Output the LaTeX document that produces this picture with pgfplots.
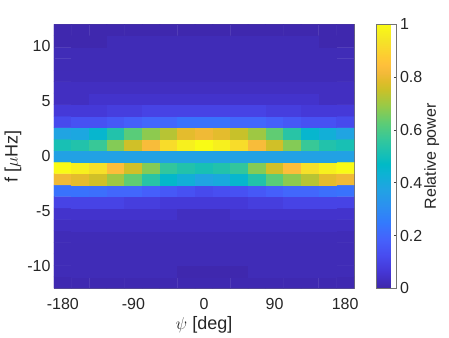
\documentclass[border=0pt]{standalone}
\usepackage{fontspec}
\setmainfont{Liberation Sans}
\usepackage{pgfplots}
\pgfplotsset{compat=1.18}
\definecolor{txt}{RGB}{38,38,38}
\pgfplotsset{
  colormap={parula}{
    rgb(0pt)=(0.2422,0.1504,0.6603) rgb(16pt)=(0.2704,0.2138,0.8346)
    rgb(32pt)=(0.2813,0.2985,0.9397) rgb(48pt)=(0.2710,0.3860,0.9898)
    rgb(64pt)=(0.2006,0.4803,0.9906) rgb(80pt)=(0.1716,0.5655,0.9393)
    rgb(96pt)=(0.1288,0.6408,0.8910) rgb(112pt)=(0.0433,0.7039,0.8242)
    rgb(120pt)=(0.0018,0.7275,0.7752) rgb(128pt)=(0.0770,0.7468,0.7224)
    rgb(144pt)=(0.2061,0.7808,0.6065) rgb(160pt)=(0.3671,0.8021,0.4563)
    rgb(176pt)=(0.5886,0.7913,0.2833) rgb(192pt)=(0.7945,0.7554,0.1570)
    rgb(200pt)=(0.8804,0.7372,0.1650) rgb(208pt)=(0.9523,0.7284,0.2237)
    rgb(216pt)=(0.9971,0.7513,0.2309) rgb(224pt)=(0.9938,0.7974,0.1974)
    rgb(240pt)=(0.9601,0.8963,0.1507) rgb(255pt)=(0.9769,0.9839,0.0805)
  }
}
\begin{document}
\begin{tikzpicture}
\begin{axis}[
  name=main,
  scale only axis, width=300pt, height=264pt,
  xmin=-191.25, xmax=191.25, ymin=-12, ymax=12,
  xtick={-180,-90,0,90,180}, xticklabels={-180,-90,0,90,180},
  ytick={-10,-5,0,5,10}, yticklabels={-10,-5,0,5,10},
  tick align=inside, major tick length=3pt,
  tick style={black!75, line width=0.5pt},
  axis line style={black!55, line width=0.6pt},
  ticklabel style={font=\fontsize{16}{18}\selectfont, text=txt},
  xticklabel style={yshift=-6pt},
  xlabel={$\psi$ [deg]}, ylabel={f [$\mu$Hz]},
  label style={font=\fontsize{18}{20}\selectfont, text=txt},
  xlabel style={at={(axis description cs:0.5,-0.14)}, anchor=center},
  ylabel style={at={(axis description cs:-0.137,0.5)}, anchor=center},
  point meta min=0, point meta max=1,
  colorbar,
  colorbar style={
    at={(parent axis.north east)}, anchor=north west, xshift=13.5pt,
    scale only axis, width=20.5pt, height=264pt,
    ytick={0,0.2,0.4,0.6,0.8,1}, yticklabels={0,0.2,0.4,0.6,0.8,1},
    ytick pos=right, yticklabel pos=right,
    tick align=inside, major tick length=3pt,
    tick style={black!75, line width=0.5pt},
    axis line style={black!55, line width=0.6pt},
    ticklabel style={font=\fontsize{16}{18}\selectfont, text=txt},
    ylabel={Relative power},
    ylabel style={font=\fontsize{16}{18}\selectfont, text=txt, yshift=5pt},
  },
]
\addplot[matrix plot*, mesh/cols=17, point meta=explicit]
  table[row sep=\\, header=false, x index=0, y index=1, meta index=2] {
-180 -11.478 0.012\\ -157.5 -11.478 0.012\\ -135 -11.478 0.012\\ -112.5 -11.478 0.012\\ -90 -11.478 0.012\\ -67.5 -11.478 0.012\\ -45 -11.478 0.012\\ -22.5 -11.478 0.012\\ 0 -11.478 0.012\\ 22.5 -11.478 0.012\\ 45 -11.478 0.012\\ 67.5 -11.478 0.012\\ 90 -11.478 0.012\\ 112.5 -11.478 0.012\\ 135 -11.478 0.012\\ 157.5 -11.478 0.012\\ 180 -11.478 0.012\\
-180 -10.435 0.02\\ -157.5 -10.435 0.02\\ -135 -10.435 0.02\\ -112.5 -10.435 0.02\\ -90 -10.435 0.02\\ -67.5 -10.435 0.02\\ -45 -10.435 0.02\\ -22.5 -10.435 0.008\\ 0 -10.435 0.008\\ 22.5 -10.435 0.008\\ 45 -10.435 0.008\\ 67.5 -10.435 0.02\\ 90 -10.435 0.02\\ 112.5 -10.435 0.02\\ 135 -10.435 0.02\\ 157.5 -10.435 0.02\\ 180 -10.435 0.02\\
-180 -9.391 0.02\\ -157.5 -9.391 0.02\\ -135 -9.391 0.02\\ -112.5 -9.391 0.02\\ -90 -9.391 0.02\\ -67.5 -9.391 0.02\\ -45 -9.391 0.02\\ -22.5 -9.391 0.02\\ 0 -9.391 0.02\\ 22.5 -9.391 0.02\\ 45 -9.391 0.02\\ 67.5 -9.391 0.02\\ 90 -9.391 0.02\\ 112.5 -9.391 0.02\\ 135 -9.391 0.02\\ 157.5 -9.391 0.02\\ 180 -9.391 0.02\\
-180 -8.348 0.02\\ -157.5 -8.348 0.02\\ -135 -8.348 0.02\\ -112.5 -8.348 0.02\\ -90 -8.348 0.02\\ -67.5 -8.348 0.02\\ -45 -8.348 0.02\\ -22.5 -8.348 0.02\\ 0 -8.348 0.02\\ 22.5 -8.348 0.02\\ 45 -8.348 0.02\\ 67.5 -8.348 0.02\\ 90 -8.348 0.02\\ 112.5 -8.348 0.02\\ 135 -8.348 0.02\\ 157.5 -8.348 0.02\\ 180 -8.348 0.02\\
-180 -7.304 0.022\\ -157.5 -7.304 0.022\\ -135 -7.304 0.022\\ -112.5 -7.304 0.022\\ -90 -7.304 0.022\\ -67.5 -7.304 0.022\\ -45 -7.304 0.022\\ -22.5 -7.304 0.022\\ 0 -7.304 0.022\\ 22.5 -7.304 0.022\\ 45 -7.304 0.022\\ 67.5 -7.304 0.022\\ 90 -7.304 0.022\\ 112.5 -7.304 0.022\\ 135 -7.304 0.022\\ 157.5 -7.304 0.022\\ 180 -7.304 0.022\\
-180 -6.261 0.035\\ -157.5 -6.261 0.035\\ -135 -6.261 0.035\\ -112.5 -6.261 0.035\\ -90 -6.261 0.035\\ -67.5 -6.261 0.035\\ -45 -6.261 0.035\\ -22.5 -6.261 0.035\\ 0 -6.261 0.035\\ 22.5 -6.261 0.035\\ 45 -6.261 0.035\\ 67.5 -6.261 0.035\\ 90 -6.261 0.035\\ 112.5 -6.261 0.035\\ 135 -6.261 0.035\\ 157.5 -6.261 0.035\\ 180 -6.261 0.035\\
-180 -5.217 0.05\\ -157.5 -5.217 0.05\\ -135 -5.217 0.05\\ -112.5 -5.217 0.05\\ -90 -5.217 0.05\\ -67.5 -5.217 0.05\\ -45 -5.217 0.05\\ -22.5 -5.217 0.035\\ 0 -5.217 0.035\\ 22.5 -5.217 0.035\\ 45 -5.217 0.05\\ 67.5 -5.217 0.05\\ 90 -5.217 0.05\\ 112.5 -5.217 0.05\\ 135 -5.217 0.05\\ 157.5 -5.217 0.05\\ 180 -5.217 0.05\\
-180 -4.174 0.10\\ -157.5 -4.174 0.10\\ -135 -4.174 0.10\\ -112.5 -4.174 0.10\\ -90 -4.174 0.085\\ -67.5 -4.174 0.085\\ -45 -4.174 0.07\\ -22.5 -4.174 0.07\\ 0 -4.174 0.07\\ 22.5 -4.174 0.07\\ 45 -4.174 0.07\\ 67.5 -4.174 0.085\\ 90 -4.174 0.085\\ 112.5 -4.174 0.10\\ 135 -4.174 0.10\\ 157.5 -4.174 0.10\\ 180 -4.174 0.10\\
-180 -3.130 0.23\\ -157.5 -3.130 0.23\\ -135 -3.130 0.22\\ -112.5 -3.130 0.20\\ -90 -3.130 0.20\\ -67.5 -3.130 0.18\\ -45 -3.130 0.16\\ -22.5 -3.130 0.14\\ 0 -3.130 0.12\\ 22.5 -3.130 0.13\\ 45 -3.130 0.14\\ 67.5 -3.130 0.16\\ 90 -3.130 0.18\\ 112.5 -3.130 0.20\\ 135 -3.130 0.20\\ 157.5 -3.130 0.22\\ 180 -3.130 0.23\\
-180 -2.087 0.81\\ -157.5 -2.087 0.79\\ -135 -2.087 0.76\\ -112.5 -2.087 0.70\\ -90 -2.087 0.63\\ -67.5 -2.087 0.54\\ -45 -2.087 0.46\\ -22.5 -2.087 0.42\\ 0 -2.087 0.38\\ 22.5 -2.087 0.40\\ 45 -2.087 0.45\\ 67.5 -2.087 0.53\\ 90 -2.087 0.62\\ 112.5 -2.087 0.68\\ 135 -2.087 0.73\\ 157.5 -2.087 0.79\\ 180 -2.087 0.81\\
-180 -1.043 1.00\\ -157.5 -1.043 0.97\\ -135 -1.043 0.93\\ -112.5 -1.043 0.84\\ -90 -1.043 0.76\\ -67.5 -1.043 0.67\\ -45 -1.043 0.56\\ -22.5 -1.043 0.53\\ 0 -1.043 0.51\\ 22.5 -1.043 0.53\\ 45 -1.043 0.56\\ 67.5 -1.043 0.67\\ 90 -1.043 0.76\\ 112.5 -1.043 0.84\\ 135 -1.043 0.93\\ 157.5 -1.043 0.97\\ 180 -1.043 1.00\\
-180 0 0.37\\ -157.5 0 0.37\\ -135 0 0.37\\ -112.5 0 0.37\\ -90 0 0.37\\ -67.5 0 0.37\\ -45 0 0.37\\ -22.5 0 0.37\\ 0 0 0.37\\ 22.5 0 0.37\\ 45 0 0.37\\ 67.5 0 0.37\\ 90 0 0.37\\ 112.5 0 0.37\\ 135 0 0.37\\ 157.5 0 0.37\\ 180 0 0.37\\
-180 1.043 0.51\\ -157.5 1.043 0.53\\ -135 1.043 0.57\\ -112.5 1.043 0.67\\ -90 1.043 0.76\\ -67.5 1.043 0.83\\ -45 1.043 0.92\\ -22.5 1.043 0.97\\ 0 1.043 1.00\\ 22.5 1.043 0.97\\ 45 1.043 0.92\\ 67.5 1.043 0.83\\ 90 1.043 0.76\\ 112.5 1.043 0.67\\ 135 1.043 0.57\\ 157.5 1.043 0.53\\ 180 1.043 0.51\\
-180 2.087 0.38\\ -157.5 2.087 0.39\\ -135 2.087 0.45\\ -112.5 2.087 0.53\\ -90 2.087 0.62\\ -67.5 2.087 0.68\\ -45 2.087 0.73\\ -22.5 2.087 0.79\\ 0 2.087 0.81\\ 22.5 2.087 0.79\\ 45 2.087 0.75\\ 67.5 2.087 0.70\\ 90 2.087 0.63\\ 112.5 2.087 0.54\\ 135 2.087 0.45\\ 157.5 2.087 0.42\\ 180 2.087 0.38\\
-180 3.130 0.12\\ -157.5 3.130 0.14\\ -135 3.130 0.14\\ -112.5 3.130 0.16\\ -90 3.130 0.18\\ -67.5 3.130 0.20\\ -45 3.130 0.20\\ -22.5 3.130 0.23\\ 0 3.130 0.23\\ 22.5 3.130 0.23\\ 45 3.130 0.20\\ 67.5 3.130 0.20\\ 90 3.130 0.18\\ 112.5 3.130 0.16\\ 135 3.130 0.14\\ 157.5 3.130 0.14\\ 180 3.130 0.12\\
-180 4.174 0.07\\ -157.5 4.174 0.07\\ -135 4.174 0.07\\ -112.5 4.174 0.085\\ -90 4.174 0.085\\ -67.5 4.174 0.10\\ -45 4.174 0.10\\ -22.5 4.174 0.10\\ 0 4.174 0.10\\ 22.5 4.174 0.10\\ 45 4.174 0.10\\ 67.5 4.174 0.10\\ 90 4.174 0.085\\ 112.5 4.174 0.085\\ 135 4.174 0.07\\ 157.5 4.174 0.07\\ 180 4.174 0.07\\
-180 5.217 0.035\\ -157.5 5.217 0.035\\ -135 5.217 0.05\\ -112.5 5.217 0.05\\ -90 5.217 0.05\\ -67.5 5.217 0.05\\ -45 5.217 0.05\\ -22.5 5.217 0.05\\ 0 5.217 0.05\\ 22.5 5.217 0.05\\ 45 5.217 0.05\\ 67.5 5.217 0.05\\ 90 5.217 0.05\\ 112.5 5.217 0.05\\ 135 5.217 0.05\\ 157.5 5.217 0.035\\ 180 5.217 0.035\\
-180 6.261 0.035\\ -157.5 6.261 0.035\\ -135 6.261 0.035\\ -112.5 6.261 0.035\\ -90 6.261 0.035\\ -67.5 6.261 0.035\\ -45 6.261 0.035\\ -22.5 6.261 0.035\\ 0 6.261 0.035\\ 22.5 6.261 0.035\\ 45 6.261 0.035\\ 67.5 6.261 0.035\\ 90 6.261 0.035\\ 112.5 6.261 0.035\\ 135 6.261 0.035\\ 157.5 6.261 0.035\\ 180 6.261 0.035\\
-180 7.304 0.022\\ -157.5 7.304 0.022\\ -135 7.304 0.022\\ -112.5 7.304 0.022\\ -90 7.304 0.022\\ -67.5 7.304 0.022\\ -45 7.304 0.022\\ -22.5 7.304 0.022\\ 0 7.304 0.022\\ 22.5 7.304 0.022\\ 45 7.304 0.022\\ 67.5 7.304 0.022\\ 90 7.304 0.022\\ 112.5 7.304 0.022\\ 135 7.304 0.022\\ 157.5 7.304 0.022\\ 180 7.304 0.022\\
-180 8.348 0.02\\ -157.5 8.348 0.02\\ -135 8.348 0.02\\ -112.5 8.348 0.02\\ -90 8.348 0.02\\ -67.5 8.348 0.02\\ -45 8.348 0.02\\ -22.5 8.348 0.02\\ 0 8.348 0.02\\ 22.5 8.348 0.02\\ 45 8.348 0.02\\ 67.5 8.348 0.02\\ 90 8.348 0.02\\ 112.5 8.348 0.02\\ 135 8.348 0.02\\ 157.5 8.348 0.02\\ 180 8.348 0.02\\
-180 9.391 0.02\\ -157.5 9.391 0.02\\ -135 9.391 0.02\\ -112.5 9.391 0.02\\ -90 9.391 0.02\\ -67.5 9.391 0.02\\ -45 9.391 0.02\\ -22.5 9.391 0.02\\ 0 9.391 0.02\\ 22.5 9.391 0.02\\ 45 9.391 0.02\\ 67.5 9.391 0.02\\ 90 9.391 0.02\\ 112.5 9.391 0.02\\ 135 9.391 0.02\\ 157.5 9.391 0.02\\ 180 9.391 0.02\\
-180 10.435 0.008\\ -157.5 10.435 0.008\\ -135 10.435 0.008\\ -112.5 10.435 0.02\\ -90 10.435 0.02\\ -67.5 10.435 0.02\\ -45 10.435 0.02\\ -22.5 10.435 0.02\\ 0 10.435 0.02\\ 22.5 10.435 0.02\\ 45 10.435 0.02\\ 67.5 10.435 0.02\\ 90 10.435 0.02\\ 112.5 10.435 0.02\\ 135 10.435 0.02\\ 157.5 10.435 0.008\\ 180 10.435 0.008\\
-180 11.478 0.008\\ -157.5 11.478 0.008\\ -135 11.478 0.008\\ -112.5 11.478 0.008\\ -90 11.478 0.008\\ -67.5 11.478 0.008\\ -45 11.478 0.008\\ -22.5 11.478 0.008\\ 0 11.478 0.008\\ 22.5 11.478 0.008\\ 45 11.478 0.008\\ 67.5 11.478 0.008\\ 90 11.478 0.008\\ 112.5 11.478 0.008\\ 135 11.478 0.008\\ 157.5 11.478 0.008\\ 180 11.478 0.008\\
};
\end{axis}
\path[use as bounding box] (main.south west) ++(-54pt,-48.7pt) rectangle ++(449pt,337pt);
\end{tikzpicture}
\end{document}
